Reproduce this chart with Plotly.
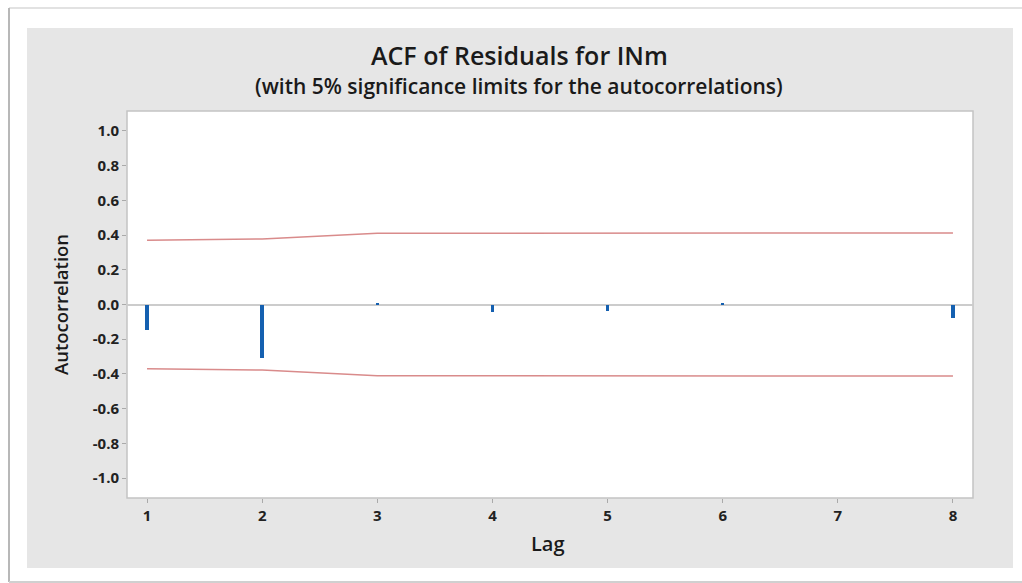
import plotly.graph_objects as go

lags = [1, 2, 3, 4, 5, 6, 7, 8]
acf_values = [-0.145, -0.31, 0.01, -0.045, -0.04, 0.005, 0.0, -0.075]
upper_limit = [0.370, 0.378, 0.411, 0.411, 0.412, 0.412, 0.412, 0.412]
lower_limit = [-v for v in upper_limit]
y_ticks = [-1.0, -0.8, -0.6, -0.4, -0.2, 0.0, 0.2, 0.4, 0.6, 0.8, 1.0]
x_ticks = [1, 2, 3, 4, 5, 6, 7, 8]

W, H = 1022, 583
L, R, T, B = 127, 973, 111, 498


def px(x):
    return (x - L) / (R - L)


def py(y):
    return (B - y) / (B - T)


fig = go.Figure()
fig.add_trace(go.Scatter(x=lags, y=upper_limit, mode="lines",
                         line=dict(color="#d98b8b", width=1.5), hoverinfo="skip"))
fig.add_trace(go.Scatter(x=lags, y=lower_limit, mode="lines",
                         line=dict(color="#d98b8b", width=1.5), hoverinfo="skip"))
fig.add_trace(go.Bar(x=lags, y=acf_values, width=0.03, marker=dict(color="#1560b0", line=dict(width=0))))

shapes = [
    dict(type="line", xref="paper", yref="paper", x0=px(9), x1=px(1022), y0=py(8), y1=py(8),
         line=dict(color="#e2e2e2", width=2), layer="below"),
    dict(type="line", xref="paper", yref="paper", x0=px(9), x1=px(9), y0=py(8), y1=py(582),
         line=dict(color="#b8b8b8", width=2), layer="below"),
    dict(type="line", xref="paper", yref="paper", x0=px(9), x1=px(1022), y0=py(582), y1=py(582),
         line=dict(color="#d0d0d0", width=2), layer="below"),
    dict(type="rect", xref="paper", yref="paper", x0=px(27), x1=px(1013), y0=py(28), y1=py(568),
         fillcolor="#e6e6e6", line=dict(width=0), layer="below"),
    dict(type="rect", xref="paper", yref="paper", x0=0, x1=1, y0=0, y1=1,
         fillcolor="white", line=dict(color="#c4c4c4", width=1.5), layer="below"),
]

annotations = [
    dict(text="ACF of Residuals for INm", xref="paper", yref="paper", x=px(519), y=py(55),
         showarrow=False, font=dict(family="Open Sans", size=25, weight=600, color="#1a1a1a"),
         xanchor="center", yanchor="middle"),
    dict(text="(with 5% significance limits for the autocorrelations)", xref="paper", yref="paper",
         x=px(519), y=py(86), showarrow=False, font=dict(family="Open Sans", size=21, weight=600, color="#1a1a1a"),
         xanchor="center", yanchor="middle"),
    dict(text="Autocorrelation", xref="paper", yref="paper", x=px(60), y=py(305), textangle=-90,
         showarrow=False, font=dict(family="Open Sans", size=18.5, weight=600, color="#1a1a1a"),
         xanchor="center", yanchor="middle"),
    dict(text="Lag", xref="paper", yref="paper", x=px(548), y=py(543),
         showarrow=False, font=dict(family="Open Sans", size=20, weight=600, color="#1a1a1a"),
         xanchor="center", yanchor="middle"),
]

fig.update_layout(
    width=W, height=H,
    margin=dict(l=L, r=W - R, t=T, b=H - B),
    paper_bgcolor="white",
    plot_bgcolor="rgba(0,0,0,0)",
    showlegend=False,
    shapes=shapes,
    annotations=annotations,
    bargap=0,
)
fig.update_xaxes(range=[0.826, 8.174], tickvals=x_ticks, ticktext=[str(t) for t in x_ticks],
                 ticks="outside", ticklen=4, tickcolor="#aaaaaa", showgrid=False, zeroline=False,
                 showline=False, tickfont=dict(family="Open Sans", size=15, weight="bold", color="#222222"))
fig.update_yaxes(range=[-1.115, 1.115], tickvals=y_ticks, ticktext=[f"{t:.1f}" for t in y_ticks],
                 ticks="outside", ticklen=4, tickcolor="#aaaaaa", showgrid=False, zeroline=True,
                 zerolinecolor="#cccccc", zerolinewidth=1.5, showline=False,
                 tickfont=dict(family="Open Sans", size=15, weight="bold", color="#222222"))

fig.write_html("out.html")
